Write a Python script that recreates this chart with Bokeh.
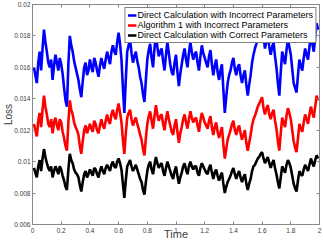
from bokeh.plotting import figure
from bokeh.models import Range1d, FixedTicker, LinearAxis, CustomJSTickFormatter, Label, Legend
from bokeh.embed import file_html
from bokeh.resources import INLINE

# Time in units of 10^4
time_1e4 = [0.01, 0.02, 0.03, 0.04, 0.05, 0.06, 0.07, 0.08, 0.09, 0.10,
            0.11, 0.12, 0.13, 0.14, 0.15, 0.16, 0.17, 0.18, 0.19, 0.20,
            0.21, 0.22, 0.23, 0.24, 0.25, 0.26, 0.27, 0.28, 0.29, 0.30,
            0.31, 0.32, 0.33, 0.34, 0.35, 0.36, 0.37, 0.38, 0.39, 0.40,
            0.41, 0.42, 0.43, 0.44, 0.45, 0.46, 0.47, 0.48, 0.49, 0.50,
            0.51, 0.52, 0.53, 0.54, 0.55, 0.56, 0.57, 0.58, 0.59, 0.60,
            0.61, 0.62, 0.63, 0.64, 0.65, 0.66, 0.67, 0.68, 0.69, 0.70,
            0.71, 0.72, 0.73, 0.74, 0.75, 0.76, 0.77, 0.78, 0.79, 0.80,
            0.81, 0.82, 0.83, 0.84, 0.85, 0.86, 0.87, 0.88, 0.89, 0.90,
            0.91, 0.92, 0.93, 0.94, 0.95, 0.96, 0.97, 0.98, 0.99, 1.00,
            1.01, 1.02, 1.03, 1.04, 1.05, 1.06, 1.07, 1.08, 1.09, 1.10,
            1.11, 1.12, 1.13, 1.14, 1.15, 1.16, 1.17, 1.18, 1.19, 1.20,
            1.21, 1.22, 1.23, 1.24, 1.25, 1.26, 1.27, 1.28, 1.29, 1.30,
            1.31, 1.32, 1.33, 1.34, 1.35, 1.36, 1.37, 1.38, 1.39, 1.40,
            1.41, 1.42, 1.43, 1.44, 1.45, 1.46, 1.47, 1.48, 1.49, 1.50,
            1.51, 1.52, 1.53, 1.54, 1.55, 1.56, 1.57, 1.58, 1.59, 1.60,
            1.61, 1.62, 1.63, 1.64, 1.65, 1.66, 1.67, 1.68, 1.69, 1.70,
            1.71, 1.72, 1.73, 1.74, 1.75, 1.76, 1.77, 1.78, 1.79, 1.80,
            1.81, 1.82, 1.83, 1.84, 1.85, 1.86, 1.87, 1.88, 1.89, 1.90,
            1.91, 1.92, 1.93, 1.94, 1.95, 1.96, 1.97, 1.98, 1.99]

direct_incorrect = [0.0160, 0.0155, 0.0150, 0.0163, 0.0170, 0.0158, 0.0172, 0.0184, 0.0176, 0.0170,
                    0.0163, 0.0160, 0.0165, 0.0152, 0.0161, 0.0168, 0.0163, 0.0158, 0.0166, 0.0162,
                    0.0156, 0.0147, 0.0139, 0.0135, 0.0162, 0.0180, 0.0174, 0.0170, 0.0164, 0.0160,
                    0.0156, 0.0152, 0.0146, 0.0141, 0.0151, 0.0160, 0.0163, 0.0155, 0.0158, 0.0165,
                    0.0160, 0.0157, 0.0166, 0.0163, 0.0158, 0.0154, 0.0161, 0.0166, 0.0162, 0.0159,
                    0.0165, 0.0170, 0.0166, 0.0162, 0.0170, 0.0174, 0.0170, 0.0168, 0.0176, 0.0182,
                    0.0175, 0.0165, 0.0147, 0.0131, 0.0152, 0.0170, 0.0174, 0.0178, 0.0169, 0.0163,
                    0.0167, 0.0170, 0.0164, 0.0160, 0.0154, 0.0150, 0.0143, 0.0138, 0.0152, 0.0165,
                    0.0171, 0.0175, 0.0166, 0.0160, 0.0172, 0.0182, 0.0173, 0.0167, 0.0170, 0.0172,
                    0.0164, 0.0158, 0.0168, 0.0176, 0.0169, 0.0162, 0.0157, 0.0155, 0.0163, 0.0168,
                    0.0157, 0.0148, 0.0156, 0.0162, 0.0168, 0.0172, 0.0165, 0.0160, 0.0169, 0.0176,
                    0.0170, 0.0165, 0.0168, 0.0170, 0.0163, 0.0158, 0.0167, 0.0174, 0.0169, 0.0166,
                    0.0163, 0.0160, 0.0167, 0.0171, 0.0162, 0.0155, 0.0161, 0.0165, 0.0157, 0.0152,
                    0.0158, 0.0162, 0.0146, 0.0131, 0.0141, 0.0150, 0.0155, 0.0158, 0.0163, 0.0166,
                    0.0159, 0.0155, 0.0160, 0.0162, 0.0155, 0.0150, 0.0155, 0.0158, 0.0149, 0.0142,
                    0.0149, 0.0155, 0.0163, 0.0168, 0.0172, 0.0175, 0.0179, 0.0182, 0.0186, 0.0190,
                    0.0180, 0.0172, 0.0177, 0.0180, 0.0173, 0.0168, 0.0173, 0.0176, 0.0167, 0.0160,
                    0.0150, 0.0142, 0.0157, 0.0170, 0.0166, 0.0162, 0.0171, 0.0178, 0.0173, 0.0168,
                    0.0159, 0.0150, 0.0147, 0.0144, 0.0155, 0.0165, 0.0161, 0.0158, 0.0166, 0.0172,
                    0.0168, 0.0165, 0.0173, 0.0180, 0.0175, 0.0170, 0.0179, 0.0188, 0.0184]

algorithm1_incorrect = [0.0124, 0.0120, 0.0116, 0.0126, 0.0131, 0.0122, 0.0133, 0.0142, 0.0135, 0.0130,
                        0.0124, 0.0122, 0.0127, 0.0118, 0.0125, 0.0128, 0.0123, 0.0120, 0.0127, 0.0125,
                        0.0119, 0.0115, 0.0110, 0.0107, 0.0125, 0.0139, 0.0133, 0.0130, 0.0125, 0.0122,
                        0.0120, 0.0117, 0.0110, 0.0105, 0.0113, 0.0120, 0.0123, 0.0118, 0.0121, 0.0124,
                        0.0121, 0.0119, 0.0126, 0.0124, 0.0120, 0.0118, 0.0123, 0.0127, 0.0123, 0.0121,
                        0.0126, 0.0130, 0.0126, 0.0124, 0.0130, 0.0133, 0.0129, 0.0127, 0.0133, 0.0137,
                        0.0131, 0.0125, 0.0114, 0.0105, 0.0118, 0.0128, 0.0131, 0.0133, 0.0127, 0.0123,
                        0.0126, 0.0128, 0.0124, 0.0121, 0.0117, 0.0114, 0.0108, 0.0104, 0.0115, 0.0124,
                        0.0129, 0.0132, 0.0126, 0.0121, 0.0129, 0.0136, 0.0130, 0.0126, 0.0129, 0.0130,
                        0.0124, 0.0120, 0.0127, 0.0132, 0.0127, 0.0123, 0.0119, 0.0117, 0.0123, 0.0127,
                        0.0119, 0.0112, 0.0118, 0.0122, 0.0127, 0.0130, 0.0125, 0.0121, 0.0127, 0.0132,
                        0.0128, 0.0125, 0.0127, 0.0128, 0.0123, 0.0119, 0.0126, 0.0131, 0.0128, 0.0125,
                        0.0123, 0.0121, 0.0126, 0.0129, 0.0122, 0.0117, 0.0122, 0.0125, 0.0119, 0.0115,
                        0.0119, 0.0122, 0.0111, 0.0102, 0.0108, 0.0114, 0.0117, 0.0120, 0.0124, 0.0126,
                        0.0120, 0.0117, 0.0121, 0.0123, 0.0118, 0.0114, 0.0117, 0.0120, 0.0112, 0.0107,
                        0.0112, 0.0117, 0.0123, 0.0127, 0.0129, 0.0132, 0.0135, 0.0137, 0.0139, 0.0141,
                        0.0134, 0.0130, 0.0134, 0.0136, 0.0130, 0.0127, 0.0131, 0.0133, 0.0126, 0.0121,
                        0.0113, 0.0107, 0.0118, 0.0128, 0.0125, 0.0122, 0.0129, 0.0134, 0.0131, 0.0127,
                        0.0120, 0.0113, 0.0109, 0.0106, 0.0115, 0.0124, 0.0121, 0.0119, 0.0125, 0.0130,
                        0.0127, 0.0124, 0.0130, 0.0135, 0.0131, 0.0128, 0.0135, 0.0142, 0.0139]

direct_correct = [0.0096, 0.0093, 0.0090, 0.0097, 0.0101, 0.0094, 0.0102, 0.0108, 0.0103, 0.0099,
                  0.0096, 0.0094, 0.0097, 0.0090, 0.0094, 0.0097, 0.0095, 0.0092, 0.0097, 0.0095,
                  0.0091, 0.0088, 0.0084, 0.0082, 0.0095, 0.0105, 0.0101, 0.0099, 0.0095, 0.0093,
                  0.0092, 0.0090, 0.0085, 0.0081, 0.0087, 0.0092, 0.0094, 0.0090, 0.0092, 0.0095,
                  0.0093, 0.0091, 0.0096, 0.0095, 0.0092, 0.0090, 0.0094, 0.0097, 0.0094, 0.0092,
                  0.0096, 0.0098, 0.0096, 0.0094, 0.0098, 0.0100, 0.0097, 0.0096, 0.0100, 0.0102,
                  0.0099, 0.0095, 0.0086, 0.0077, 0.0088, 0.0097, 0.0099, 0.0101, 0.0097, 0.0094,
                  0.0096, 0.0098, 0.0095, 0.0092, 0.0089, 0.0087, 0.0082, 0.0079, 0.0087, 0.0094,
                  0.0098, 0.0100, 0.0095, 0.0092, 0.0098, 0.0103, 0.0099, 0.0096, 0.0098, 0.0099,
                  0.0094, 0.0091, 0.0096, 0.0100, 0.0097, 0.0094, 0.0091, 0.0089, 0.0094, 0.0097,
                  0.0091, 0.0086, 0.0090, 0.0093, 0.0097, 0.0099, 0.0095, 0.0092, 0.0097, 0.0100,
                  0.0097, 0.0095, 0.0097, 0.0097, 0.0093, 0.0091, 0.0096, 0.0099, 0.0097, 0.0095,
                  0.0093, 0.0092, 0.0096, 0.0098, 0.0093, 0.0089, 0.0093, 0.0095, 0.0091, 0.0088,
                  0.0091, 0.0093, 0.0086, 0.0080, 0.0084, 0.0087, 0.0089, 0.0091, 0.0094, 0.0096,
                  0.0092, 0.0089, 0.0092, 0.0094, 0.0090, 0.0087, 0.0090, 0.0092, 0.0086, 0.0082,
                  0.0086, 0.0089, 0.0094, 0.0097, 0.0098, 0.0100, 0.0102, 0.0103, 0.0105, 0.0106,
                  0.0102, 0.0099, 0.0101, 0.0103, 0.0099, 0.0096, 0.0099, 0.0101, 0.0096, 0.0092,
                  0.0087, 0.0083, 0.0090, 0.0097, 0.0095, 0.0093, 0.0098, 0.0101, 0.0099, 0.0096,
                  0.0091, 0.0086, 0.0083, 0.0081, 0.0088, 0.0094, 0.0092, 0.0091, 0.0095, 0.0098,
                  0.0096, 0.0094, 0.0098, 0.0102, 0.0099, 0.0097, 0.0101, 0.0104, 0.0102]

x_ticks = [0, 0.2, 0.4, 0.6, 0.8, 1.0, 1.2, 1.4, 1.6, 1.8, 2.0]
x_tick_labels = ["0", "0.2", "0.4", "0.6", "0.8", "1", "1.2", "1.4", "1.6", "1.8", "2"]
y_ticks = [0.006, 0.008, 0.010, 0.012, 0.014, 0.016, 0.018, 0.020]
y_tick_labels = ["0.006", "0.008", "0.01", "0.012", "0.014", "0.016", "0.018", "0.02"]

series_names = ["Direct Calculation with Incorrect Parameters",
                "Algorithm 1 with Incorrect Parameters",
                "Direct Calculation with Correct Parameters"]
x_exponent_text = "×10⁴"

FONT = "Liberation Sans"
AXIS_COLOR = "#8a8a8a"
TEXT_COLOR = "#3c3c3c"

p = figure(width=323, height=242, output_backend="svg", toolbar_location=None,
           x_range=Range1d(0, 2), y_range=Range1d(0.006, 0.02),
           min_border_left=0, min_border_right=4, min_border_top=4, min_border_bottom=0)
p.xgrid.visible = False
p.ygrid.visible = False
p.outline_line_color = AXIS_COLOR

r1 = p.line(time_1e4, direct_incorrect, line_color="#0000ff", line_width=2.6)
r2 = p.line(time_1e4, algorithm1_incorrect, line_color="#ff0000", line_width=2.6)
r3 = p.line(time_1e4, direct_correct, line_color="#000000", line_width=2.6)

def style_axis(ax):
    ax.axis_line_color = AXIS_COLOR
    ax.major_tick_line_color = AXIS_COLOR
    ax.major_tick_in = 3
    ax.major_tick_out = 0
    ax.minor_tick_line_color = None
    ax.major_label_text_font = FONT
    ax.major_label_text_font_size = "6.5px"
    ax.major_label_text_color = TEXT_COLOR
    ax.axis_label_text_font = FONT
    ax.axis_label_text_font_style = "normal"
    ax.axis_label_text_color = TEXT_COLOR

xax = p.xaxis[0]
xax.ticker = FixedTicker(ticks=x_ticks)
xax.major_label_overrides = dict(zip(x_ticks, x_tick_labels))
style_axis(xax)
xax.axis_label = "Time"
xax.axis_label_text_font_size = "11px"
xax.major_label_standoff = 3
xax.axis_label_standoff = -8

yax = p.yaxis[0]
yax.ticker = FixedTicker(ticks=y_ticks)
yax.major_label_overrides = dict(zip(y_ticks, y_tick_labels))
style_axis(yax)
yax.axis_label = "Loss"
yax.axis_label_text_font_size = "10px"
yax.major_label_standoff = 2
yax.axis_label_standoff = -3

empty = CustomJSTickFormatter(code="return ''")
top = LinearAxis(ticker=FixedTicker(ticks=x_ticks), formatter=empty)
style_axis(top)
top.major_label_standoff = 0
right = LinearAxis(ticker=FixedTicker(ticks=y_ticks), formatter=empty)
style_axis(right)
right.major_label_standoff = 0
p.add_layout(top, "above")
p.add_layout(right, "right")

legend = Legend(items=[(series_names[0], [r1]), (series_names[1], [r2]), (series_names[2], [r3])],
                location="top_right")
legend.label_text_font = FONT
legend.label_text_font_size = "9px"
legend.label_text_color = "#000000"
legend.label_height = 8
legend.label_standoff = 1
legend.glyph_width = 9
legend.glyph_height = 8
legend.spacing = -1
legend.padding = 2
legend.margin = 3
legend.border_line_color = "#000000"
legend.border_line_width = 1
legend.background_fill_alpha = 1
p.add_layout(legend)

p.add_layout(Label(x=2, y=0.006, text=x_exponent_text, y_offset=-10,
                   text_align="right", text_baseline="top",
                   text_font=FONT, text_font_size="6px", text_color=TEXT_COLOR))

open("out.html", "w").write(file_html(p, INLINE))
